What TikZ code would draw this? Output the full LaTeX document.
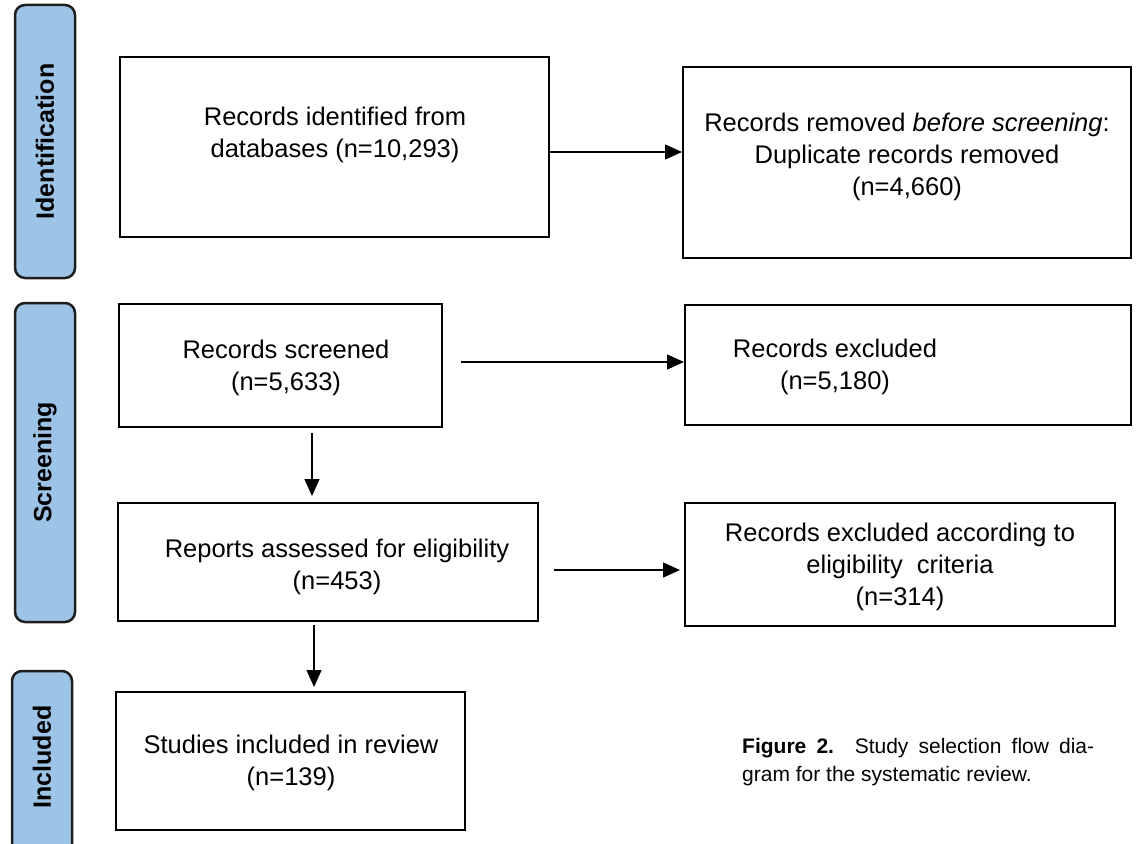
\documentclass[tikz,border=0pt]{standalone}
\usepackage{fontspec}
\setmainfont{Liberation Sans}
\usetikzlibrary{arrows.meta,calc}
\definecolor{barblue}{HTML}{9DC3E6}
\definecolor{bardraw}{HTML}{1E1E1E}
\begin{document}
\begin{tikzpicture}[x=1pt,y=-1pt,
  box/.style={draw=black,line width=2pt,inner sep=0pt},
  bar/.style={draw=bardraw,fill=barblue,line width=2.5pt,rounded corners=10pt,inner sep=0pt},
  txt/.style={align=center,font=\fontsize{25.5}{32}\selectfont,inner sep=0pt},
  bartxt/.style={rotate=90,font=\fontsize{25}{30}\selectfont\bfseries,inner sep=0pt},
  arr/.style={line width=1.3pt,-{Triangle[length=17pt,width=15pt]}}]
\useasboundingbox (0,0) rectangle (1145,843);
\clip (0,0) rectangle (1145,843);
% side bars
\node[bar,minimum width=60pt,minimum height=273pt] (barI) at (45,141.5) {};
\node[bartxt] (barIt) at (barI) {Identification};
\node[bar,minimum width=60pt,minimum height=319pt] (barS) at (45,462.5) {};
\node[bartxt] (barSt) at (barS) {Screening};
\node[bar,minimum width=60pt,minimum height=190pt] (barN) at (42,766) {};
\node[bartxt] (barNt) at (42,757) {Included};
% boxes
\node[box,minimum width=429pt,minimum height=180pt] (b1) at (334.5,147) {};
\node[txt] (t1) at (335,135) {Records identified from\\databases (n=10,293)};
\node[box,minimum width=448pt,minimum height=191pt] (b2) at (907,162.5) {};
\node[txt] (t2) at (907,157) {Records removed \textit{before screening}:\\Duplicate records removed\\(n=4,660)};
\node[box,minimum width=323pt,minimum height=123pt] (b3) at (280.5,365.5) {};
\node[txt] (t3) at (286,368) {Records screened\\(n=5,633)};
\node[box,minimum width=446pt,minimum height=120pt] (b4) at (908,365) {};
\node[txt] (t4) at (835,367) {Records excluded\\(n=5,180)};
\node[box,minimum width=420pt,minimum height=118pt] (b5) at (328,562) {};
\node[txt] (t5) at (337,567) {Reports assessed for eligibility\\(n=453)};
\node[box,minimum width=430pt,minimum height=123pt] (b6) at (900,564.5) {};
\node[txt] (t6) at (900,567) {Records excluded according to\\eligibility\ \ criteria\\(n=314)};
\node[box,minimum width=349pt,minimum height=138pt] (b7) at (290.5,761) {};
\node[txt] (t7) at (291,763) {Studies included in review\\(n=139)};
% caption
\node[anchor=north west,text width=352pt,align=justify,inner sep=0pt,
  font=\fontsize{21}{28}\selectfont] (cap) at (742,738)
  {\textbf{Figure 2.} Study selection flow dia-\linebreak gram for the systematic review.};
% arrows
\draw[arr] (b1.east |- 0,152) -- (b2.west |- 0,152);
\draw[arr] ([xshift=18pt]b3.east |- 0,362) -- (b4.west |- 0,362);
\draw[arr] (312,433) coordinate (a3s) -- ([yshift=6pt]a3s |- b5.north);
\draw[arr] ([xshift=15pt]b5.east |- 0,570) -- ([xshift=-4pt]b6.west |- 0,570);
\draw[arr] (314,625) coordinate (a5s) -- ([yshift=4pt]a5s |- b7.north);
\end{tikzpicture}
\end{document}
